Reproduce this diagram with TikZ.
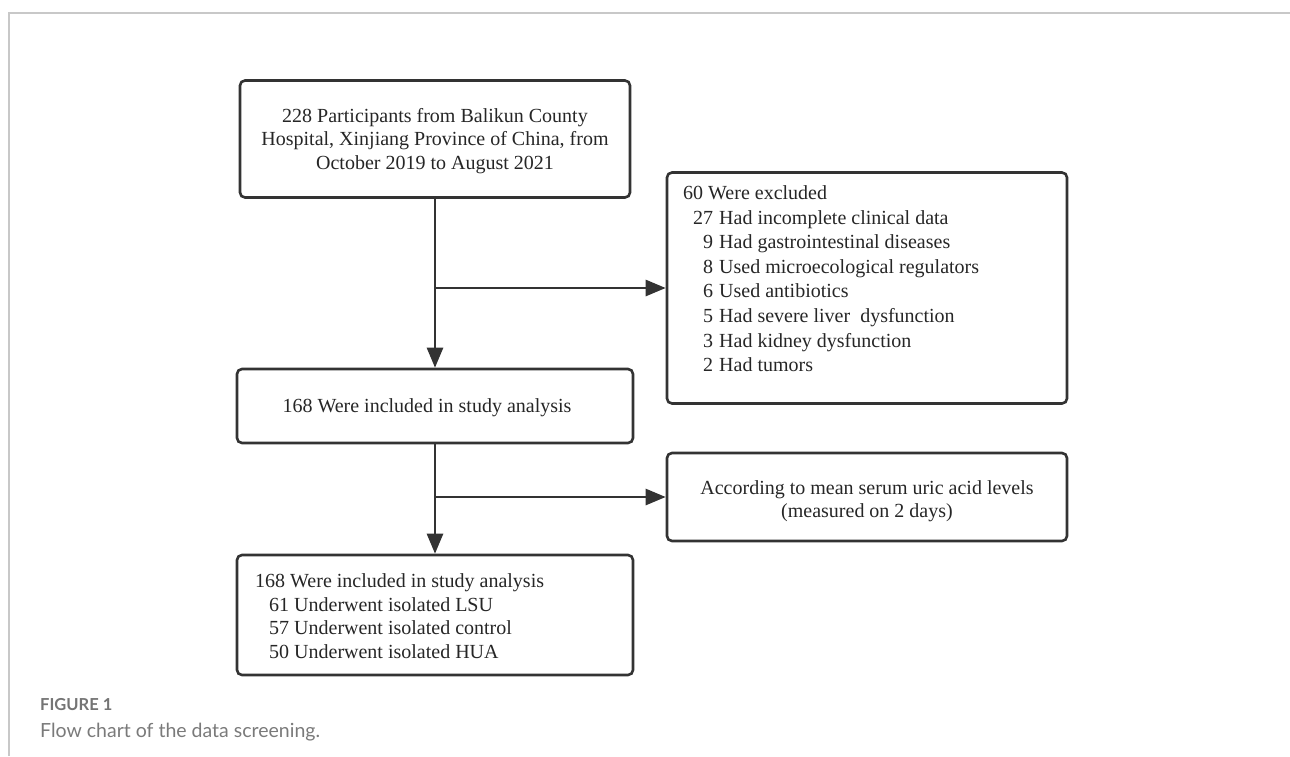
\documentclass[tikz,border=0pt]{standalone}
\usepackage{fontspec}
\setmainfont{Liberation Serif}
\newfontfamily\capfont{Lato}
\usetikzlibrary{arrows.meta}
\definecolor{linec}{HTML}{333333}
\definecolor{framec}{HTML}{C8C8C8}
\definecolor{capc}{HTML}{7A7A7A}
\definecolor{capd}{HTML}{747474}
\begin{document}
\begin{tikzpicture}[x=1pt,y=-1pt,
  boxnode/.style={draw=linec, line width=2.6pt, rounded corners=5pt, inner sep=0pt},
  txt/.style={font=\fontsize{20}{23.5}\selectfont, text=black!85, inner sep=0pt},
  arr/.style={draw=linec, line width=2.6pt, -{Triangle[length=20pt,width=16pt]}}]
\useasboundingbox (0,0) rectangle (1290,756);
\draw[framec, line width=1.5pt] (9,756) -- (9,13) -- (1290,13);

\node[boxnode, minimum width=390pt, minimum height=117pt] (b1) at (435,139) {};
\node[txt, align=center] (t1) at (435,141) {228 Participants from Balikun County\\Hospital, Xinjiang Province of China, from\\October 2019 to August 2021};

\node[boxnode, minimum width=400pt, minimum height=231pt] (ex) at (867,288) {};
\node[txt, anchor=north west, align=left, font=\fontsize{20}{24.6}\selectfont] (tex) at (683,182) {%
\begin{tabular}{@{}r@{\hspace{6pt}}l@{}}
\multicolumn{2}{@{}l}{60 Were excluded}\\
\hspace{10pt}27 & Had incomplete clinical data\\
9 & Had gastrointestinal diseases\\
8 & Used microecological regulators\\
6 & Used antibiotics\\
5 & Had severe liver\ \ dysfunction\\
3 & Had kidney dysfunction\\
2 & Had tumors
\end{tabular}};

\node[boxnode, minimum width=396pt, minimum height=74pt] (b3) at (435,406) {};
\node[txt] (t3) at (427,408) {168 Were included in study analysis};

\node[boxnode, minimum width=400pt, minimum height=88pt] (acc) at (867,497) {};
\node[txt, align=center] (tacc) at (867,501) {According to mean serum uric acid levels\\(measured on 2 days)};

\node[boxnode, minimum width=396pt, minimum height=120pt] (b5) at (435,615) {};
\node[txt, anchor=north west, align=left] (t5) at (255,571) {%
\begin{tabular}{@{}l@{}}
168 Were included in study analysis\\
\hspace{14pt}61 Underwent isolated LSU\\
\hspace{14pt}57 Underwent isolated control\\
\hspace{14pt}50 Underwent isolated HUA
\end{tabular}};

\draw[arr] (b1.south) -- (b3.north);
\coordinate (j1) at (b1.south |- ex.west);
\draw[arr] (j1) -- (ex.west);
\draw[arr] (b3.south) -- (b5.north);
\coordinate (j2) at (b3.south |- acc.west);
\draw[arr] (j2) -- (acc.west);

\node[anchor=base west, inner sep=0pt, text=capd, font=\capfont\bfseries\fontsize{16.5}{18}\selectfont] (fig) at (40,710) {FIGURE 1};
\node[anchor=base west, inner sep=0pt, text=capc, font=\capfont\fontsize{19.5}{22}\selectfont] (cap) at (40,737) {Flow chart of the data screening.};
\end{tikzpicture}
\end{document}
